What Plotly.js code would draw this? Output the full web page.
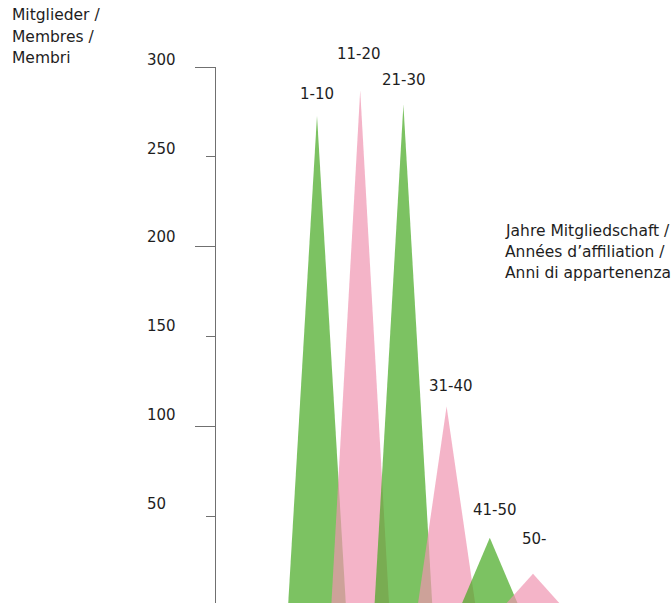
<!DOCTYPE html>
<html>
<head>
<meta charset="utf-8">
<script src="https://cdn.plot.ly/plotly-3.0.1.min.js"></script>
<style>
  html, body { margin: 0; padding: 0; overflow: hidden; background: #fff; }
  #chart { width: 671px; height: 612px; }
</style>
</head>
<body>
<div id="chart"></div>
<script>
// ---- data ----
const categories = ['1-10', '11-20', '21-30', '31-40', '41-50', '50-'];
const members = [273, 287, 279, 111, 38, 18];
const yTickValues = [50, 100, 150, 200, 250, 300];
const yTitleLines = ['Mitglieder /', 'Membres /', 'Membri'];
const xTitleLines = ['Jahre Mitgliedschaft /', 'Années d’affiliation /', 'Anni di appartenenza'];

// ---- layout geometry ----
const W = 671, H = 612;
const M = { l: 216, r: 0, t: 67, b: 6 };
const PW = W - M.l - M.r, PH = H - M.t - M.b;
const px2paperX = p => (p - M.l) / PW;
const px2paperY = p => 1 - (p - M.t) / PH;

const FONT = 'DejaVu Sans, Liberation Sans, sans-serif';
const TXT = '#1e1e1e';
const GREEN = 'rgba(69,168,32,0.7)';
const PINK = 'rgba(239,148,176,0.7)';
const halfW = 0.67;

const traces = categories.map((c, i) => ({
  type: 'scatter',
  mode: 'lines',
  x: [i - halfW, i, i + halfW],
  y: [0, members[i], 0],
  fill: 'toself',
  fillcolor: i % 2 === 0 ? GREEN : PINK,
  line: { width: 0, color: 'rgba(0,0,0,0)' },
  hoverinfo: 'skip',
  showlegend: false,
  name: c
}));

// label nudges in px (style only)
const labelNudge = [[0, 22], [-1.5, 36], [1, 25], [4, 21], [5, 28], [1.7, 35]];

const annotations = [];
categories.forEach((c, i) => {
  annotations.push({
    x: i, y: members[i], xref: 'x', yref: 'y',
    text: c, showarrow: false,
    xanchor: 'center', yanchor: 'middle',
    xshift: labelNudge[i][0], yshift: labelNudge[i][1],
    font: { family: FONT, size: 15, color: TXT }
  });
});

yTickValues.forEach(v => {
  annotations.push({
    x: px2paperX(145), xref: 'paper', y: v, yref: 'y',
    text: String(v), showarrow: false,
    xanchor: 'left', yanchor: 'middle',
    yshift: 7 + (300 - v) / 50 * 1.1,
    font: { family: FONT, size: 15, color: TXT }
  });
});

const yTitleCenters = [15, 37, 58.5];
yTitleLines.forEach((t, k) => {
  annotations.push({
    x: px2paperX(10), xref: 'paper', y: px2paperY(yTitleCenters[k]), yref: 'paper',
    text: t, showarrow: false, xanchor: 'left', yanchor: 'middle',
    font: { family: FONT, size: 15.5, color: TXT }
  });
});

const xTitleCenters = [231, 252, 273];
xTitleLines.forEach((t, k) => {
  annotations.push({
    x: px2paperX(503), xref: 'paper', y: px2paperY(xTitleCenters[k]), yref: 'paper',
    text: t, showarrow: false, xanchor: 'left', yanchor: 'middle',
    font: { family: FONT, size: 15.5, color: TXT }
  });
});

const layout = {
  width: W, height: H,
  margin: M,
  paper_bgcolor: '#fff', plot_bgcolor: '#fff',
  showlegend: false,
  xaxis: {
    visible: false,
    range: [-101 / 43.2, 354 / 43.2],
    fixedrange: true
  },
  yaxis: {
    range: [0, 300],
    showgrid: false, zeroline: false,
    showline: true, linecolor: '#707070', linewidth: 1,
    tickmode: 'linear', tick0: 0, dtick: 100,
    ticks: 'outside', ticklen: 20, tickwidth: 1, tickcolor: '#707070',
    showticklabels: false,
    minor: { tick0: 0, dtick: 50, ticks: 'outside', ticklen: 9, tickwidth: 1, tickcolor: '#707070' },
    fixedrange: true
  },
  annotations: annotations
};

Plotly.newPlot('chart', traces, layout, { displayModeBar: false, staticPlot: true });
</script>
</body>
</html>
